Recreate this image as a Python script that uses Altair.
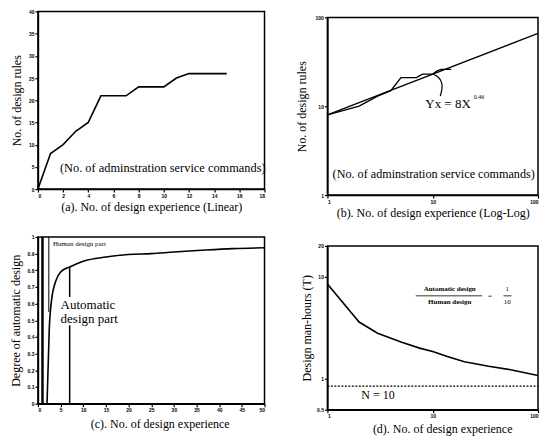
import altair as alt
import pandas as pd

SERIF = "Liberation Serif"

# ---------- data ----------
# (a) linear
exp_a = [0, 1, 2, 3, 4, 5, 6, 7, 8, 9, 10, 11, 12, 13, 14, 15]
rules_a = [0, 8, 10, 13, 15, 21, 21, 21, 23, 23, 23, 25, 26, 26, 26, 26]
label_cmd = "(No. of adminstration service commands)"

# (b) log-log
exp_b = exp_a[1:]
rules_b = rules_a[1:]
fit_x = [1, 100]
fit_y = [8, 66]
arc_x = [10, 11.4, 12.3, 12.3, 11.8]
arc_y = [23, 21.5, 18.5, 15.5, 13.0]

# (c) degree of automatic design
exp_c = [2.0, 2.5, 3.0, 4, 5, 7, 10, 15, 20, 25, 30, 36, 43, 50]
deg_c = [0.0, 0.45, 0.62, 0.74, 0.79, 0.82, 0.855, 0.88, 0.895, 0.90, 0.91, 0.92, 0.93, 0.935]
auto_line_x = 7
auto_line_top = 0.82

# (d) design man-hours
exp_d = [1, 2, 3, 5, 7.5, 10, 14, 20, 34, 55, 100]
hours_d = [8.5, 3.6, 2.8, 2.3, 2.0, 1.85, 1.65, 1.47, 1.33, 1.23, 1.08]
n10_level = 0.85

W_L, W_R = 227, 211
GAP = 63


def spacer(w, h):
    return (
        alt.Chart(pd.DataFrame({"v": [0]}))
        .mark_point(opacity=0, size=1)
        .encode(x=alt.X("v:Q", axis=None), y=alt.Y("v:Q", axis=None))
        .properties(width=w, height=h, view=alt.ViewBackground(stroke="transparent"))
    )


def make_panel(sx, sy, axx, axy):
    def X(field="x"):
        return alt.X(f"{field}:Q", scale=sx, axis=axx)

    def Y(field="y"):
        return alt.Y(f"{field}:Q", scale=sy, axis=axy)

    def text(x, y, t, **kw):
        return alt.Chart(pd.DataFrame({"x": [x], "y": [y], "t": [t]})).mark_text(
            font=SERIF, color="black", **kw
        ).encode(x=X(), y=Y(), text="t:N")

    return X, Y, text


# ---------- panel (a) ----------
Xa, Ya, Ta = make_panel(
    alt.Scale(domain=[0, 18], nice=False),
    alt.Scale(domain=[0, 40], nice=False),
    alt.Axis(values=list(range(0, 19, 2)), title="(a). No. of design experience (Linear)", titlePadding=3),
    alt.Axis(values=list(range(0, 41, 5)), title="No. of design rules", titlePadding=5),
)
line_a = alt.Chart(pd.DataFrame({"x": exp_a, "y": rules_a})).mark_line(
    color="black", strokeWidth=1.6).encode(x=Xa(), y=Ya())
panel_a = alt.layer(
    line_a,
    Ta(1.75, 4.8, label_cmd, align="left", baseline="middle", fontSize=12.4),
).properties(width=W_L, height=178)

# ---------- panel (b) ----------
Xb, Yb, Tb = make_panel(
    alt.Scale(type="log", domain=[1, 100], nice=False),
    alt.Scale(type="log", domain=[1, 100], nice=False),
    alt.Axis(values=[1, 10, 100], format="~g", title="(b). No. of design experience (Log-Log)", titlePadding=3),
    alt.Axis(values=[1, 10, 100], format="~g", title="No. of design rules", titlePadding=7),
)
line_b = alt.Chart(pd.DataFrame({"x": exp_b, "y": rules_b})).mark_line(
    color="black", strokeWidth=1.4).encode(x=Xb(), y=Yb())
fit_b = alt.Chart(pd.DataFrame({"x": fit_x, "y": fit_y})).mark_line(
    color="black", strokeWidth=1.2).encode(x=Xb(), y=Yb())
arc_b = alt.Chart(pd.DataFrame({"x": arc_x, "y": arc_y, "o": list(range(len(arc_x)))})).mark_line(
    color="black", strokeWidth=1.2, interpolate="basis").encode(x=Xb(), y=Yb(), order="o:Q")
panel_b = alt.layer(
    line_b, fit_b, arc_b,
    Tb(8.5, 10.5, "Yx = 8X", align="left", baseline="middle", fontSize=13),
    Tb(24.5, 12.6, "0.46", align="left", baseline="middle", fontSize=6),
    Tb(1.12, 1.72, label_cmd, align="left", baseline="middle", fontSize=12.2),
).properties(width=W_R, height=178)

# ---------- panel (c) ----------
Xc, Yc, Tc = make_panel(
    alt.Scale(domain=[0, 50], nice=False),
    alt.Scale(domain=[0, 1], nice=False),
    alt.Axis(values=list(range(0, 51, 5)), title="(c). No. of design experience", titlePadding=6, titleX=122),
    alt.Axis(values=[round(i * 0.1, 1) for i in range(11)], format="~g",
             title="Degree of automatic design", titlePadding=5),
)
line_c = alt.Chart(pd.DataFrame({"x": exp_c, "y": deg_c})).mark_line(
    color="black", strokeWidth=1.6, interpolate="monotone").encode(x=Xc(), y=Yc())
box_c = alt.Chart(pd.DataFrame({"x": [1, 2.4], "y": [0, 0.55], "y2": [1, 1], "w": [2.5, 1.0]})).mark_rule(
    color="black").encode(x=Xc(), y=Yc(), y2="y2:Q", strokeWidth=alt.StrokeWidth("w:Q", scale=None))
auto_c = alt.Chart(pd.DataFrame({"x": [auto_line_x, auto_line_x], "y": [0, 0.64],
                                  "y2": [0.47, auto_line_top]})).mark_rule(
    color="black", strokeWidth=1.5).encode(x=Xc(), y=Yc(), y2="y2:Q")
panel_c = alt.layer(
    line_c, box_c, auto_c,
    Tc(3.3, 0.955, "Human design part", align="left", baseline="middle", fontSize=7),
    Tc(5.0, 0.59, "Automatic", align="left", baseline="middle", fontSize=13),
    Tc(5.0, 0.505, "design part", align="left", baseline="middle", fontSize=13),
).properties(width=W_L, height=167)

# ---------- panel (d) ----------
Xd, Yd, Td = make_panel(
    alt.Scale(type="log", domain=[1, 100], nice=False),
    alt.Scale(type="log", domain=[0.5, 20], nice=False),
    alt.Axis(values=[1, 10, 100], format="~g", title="(d). No. of design experience", titlePadding=5, titleX=115),
    alt.Axis(values=[0.5, 1, 10, 20], format="~g", title="Design man-hours (T)", titlePadding=3),
)
line_d = alt.Chart(pd.DataFrame({"x": exp_d, "y": hours_d})).mark_line(
    color="black", strokeWidth=1.6).encode(x=Xd(), y=Yd())
n10_d = alt.Chart(pd.DataFrame({"x": [1], "x2": [100], "y": [n10_level]})).mark_rule(
    color="black", strokeWidth=1.2, strokeDash=[2, 1.5]).encode(x=Xd(), x2="x2:Q", y=Yd())
frac_d = alt.Chart(pd.DataFrame({"x": [6.9, 47], "x2": [29.5, 56], "y": [6.5, 6.5]})).mark_rule(
    color="black", strokeWidth=0.8).encode(x=Xd(), x2="x2:Q", y=Yd())
panel_d = alt.layer(
    line_d, n10_d, frac_d,
    Td(14.5, 7.6, "Automatic design", align="center", baseline="middle", fontSize=7, fontWeight="bold"),
    Td(14.5, 5.6, "Human design", align="center", baseline="middle", fontSize=7, fontWeight="bold"),
    Td(35, 6.5, "=", align="center", baseline="middle", fontSize=7),
    Td(51, 7.5, "1", align="center", baseline="middle", fontSize=7),
    Td(51, 5.6, "10", align="center", baseline="middle", fontSize=7),
    Td(2.1, 0.70, "N = 10", align="left", baseline="middle", fontSize=12),
).properties(width=W_R, height=164)

# ---------- layout ----------
col_left = alt.vconcat(
    spacer(W_L, 1), panel_a, spacer(W_L, 48), panel_c,
    spacing=0, bounds="flush",
)
col_right = alt.vconcat(
    spacer(W_R, 6.5), panel_b, spacer(W_R, 50.5), panel_d,
    spacing=0, bounds="flush",
)
# nested flush columns report zero width, so the column gap includes the left panel width
chart = alt.hconcat(
    col_left, col_right, spacing=W_L + GAP, bounds="flush",
).properties(
    padding=0, background="white"
).configure_view(
    stroke="black", strokeWidth=1.5
).configure_axis(
    grid=False,
    domainColor="black", domainWidth=1.5,
    tickColor="black", tickSize=3, tickWidth=1.2,
    labelFont="Liberation Sans", labelFontSize=5, labelFontWeight="bold",
    labelColor="black", labelPadding=1,
    titleFont=SERIF, titleFontSize=12, titleFontWeight="normal", titleColor="black",
)

chart.save("out.html", embed_options={"renderer": "svg", "actions": False})
